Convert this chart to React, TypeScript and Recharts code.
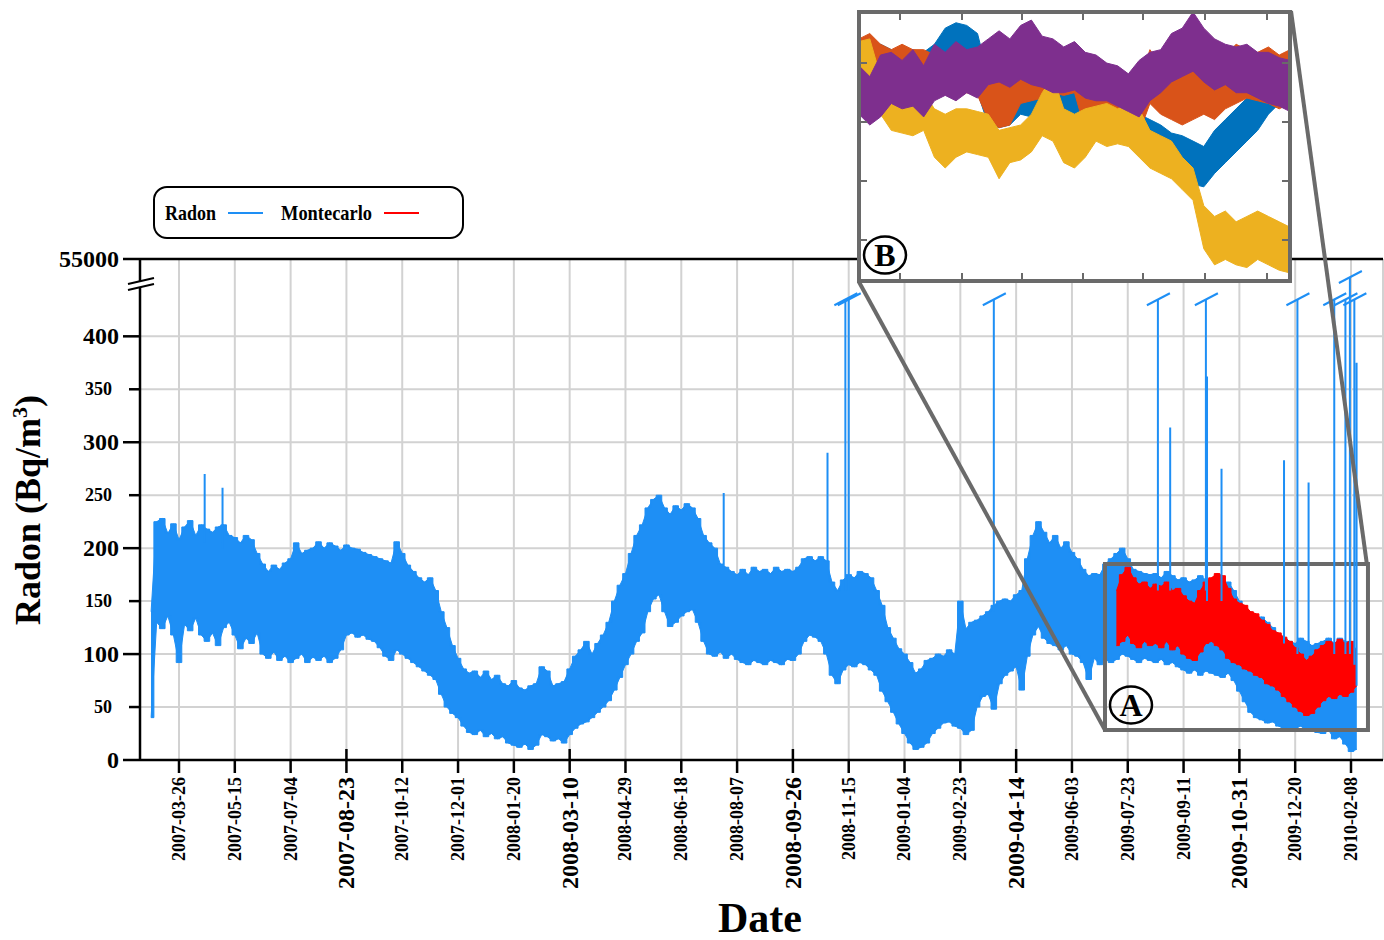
import React from "react";
import {
  ComposedChart,
  Area,
  Line,
  XAxis,
  YAxis,
  CartesianGrid,
  ReferenceLine,
  ReferenceArea,
} from "recharts";

const FONT = '"Liberation Serif", "DejaVu Serif", serif';
const BLUE = "#1e8ff5";
const RED = "#ff0000";
const GRAY = "#6a6a6a";

// x axis: days after 2007-03-26, one tick every 50 days
const dateLabels = [
  "2007-03-26", "2007-05-15", "2007-07-04", "2007-08-23", "2007-10-12", "2007-12-01",
  "2008-01-20", "2008-03-10", "2008-04-29", "2008-06-18", "2008-08-07", "2008-09-26",
  "2008-11-15", "2009-01-04", "2009-02-23", "2009-04-14", "2009-06-03", "2009-07-23",
  "2009-09-11", "2009-10-31", "2009-12-20", "2010-02-08",
];
const xTickValues = dateLabels.map((_, i) => i * 50);

// y axis is broken above 400; the top tick stands for 55000
const yTickValues = [0, 50, 100, 150, 200, 250, 300, 350, 400, 473];
const yLabels = ["0", "50", "100", "150", "200", "250", "300", "350", "400", "55000"];

// Radon envelope, one sample every 5 days starting at day -25
const radonStart = -25;
const radonStep = 5;
const radonLow = [
  40, 130, 124, 136, 118, 92, 128, 122, 134, 118,
  112, 120, 108, 125, 130, 118, 105, 115, 110, 120,
  100, 96, 102, 94, 98, 92, 96, 100, 92, 97,
  94, 98, 92, 96, 104, 118, 120, 116, 118, 114,
  112, 106, 98, 94, 104, 100, 96, 92, 88, 84,
  80, 76, 62, 50, 44, 40, 32, 26, 24, 28,
  22, 25, 20, 22, 16, 14, 12, 15, 10, 14,
  24, 22, 18, 20, 16, 24, 30, 34, 36, 40,
  45, 50, 56, 66, 78, 90, 100, 112, 120, 140,
  152, 156, 140, 126, 130, 136, 140, 142, 130, 112,
  100, 98, 102, 96, 100, 95, 92, 90, 94, 92,
  90, 94, 92, 90, 95, 94, 100, 112, 118, 116,
  112, 100, 80, 72, 85, 90, 88, 92, 90, 85,
  80, 65, 55, 45, 34, 25, 16, 10, 12, 16,
  25, 30, 35, 36, 32, 30, 24, 28, 50, 60,
  62, 48, 72, 80, 84, 88, 66, 98, 118, 126,
  115, 110, 108, 104, 108, 100, 98, 92, 76, 96,
  90, 95, 92, 95, 100, 98, 95, 92, 96, 94,
  92, 95, 90, 92, 88, 85, 82, 85, 80, 84,
  82, 80, 78, 82, 75, 65, 55, 45, 40, 38,
  35, 36, 32, 30, 28, 30, 32, 28, 30, 26,
  25, 28, 20, 22, 15, 8, 10,
];
const radonHigh = [
  140, 225, 228, 214, 223, 208, 220, 226, 212, 222,
  218, 215, 220, 222, 212, 210, 205, 212, 208, 195,
  185, 178, 184, 180, 186, 190, 205, 195, 198, 200,
  206, 200, 205, 202, 198, 203, 200, 199, 196, 194,
  192, 190, 188, 186, 206, 195, 184, 178, 172, 168,
  172, 160, 140, 125, 108, 96, 86, 82, 84, 78,
  84, 76, 80, 72, 70, 75, 68, 66, 70, 72,
  88, 84, 70, 72, 74, 86, 98, 104, 112, 100,
  110, 118, 130, 150, 165, 176, 195, 212, 222, 238,
  246, 250, 238, 232, 240, 236, 242, 238, 228, 212,
  205, 200, 185, 182, 178, 175, 180, 175, 182, 178,
  180, 176, 182, 178, 180, 178, 182, 190, 192, 188,
  192, 188, 168, 160, 170, 175, 172, 178, 176, 172,
  160, 146, 125, 115, 105, 100, 92, 82, 86, 94,
  96, 100, 98, 104, 100, 150, 124, 130, 132, 136,
  140, 146, 150, 152, 150, 156, 160, 190, 212, 225,
  215, 205, 212, 200, 206, 196, 190, 180, 174, 176,
  175, 185, 190, 195, 200, 190, 180, 178, 176, 175,
  176, 172, 178, 174, 170, 172, 168, 170, 174, 170,
  168, 172, 165, 168, 160, 150, 140, 135, 130, 135,
  130, 125, 118, 115, 112, 110, 115, 112, 108, 110,
  112, 115, 110, 115, 112, 108, 105,
];

// Montecarlo envelope, one sample every 5 days starting at day 840
const mcStart = 840;
const mcStep = 5;
const mcLow = [
  108, 112, 118, 110, 106, 112, 108, 110, 106, 112,
  104, 108, 100, 96, 94, 102, 110, 112, 108, 104,
  96, 92, 90, 86, 84, 80, 78, 72, 70, 66,
  60, 55, 50, 46, 42, 44, 50, 56, 60, 58,
  62, 60, 64, 70,
];
const mcHigh = [
  160, 175, 182, 172, 166, 168, 162, 166, 164, 168,
  160, 162, 155, 150, 148, 160, 168, 172, 176, 174,
  162, 152, 148, 146, 140, 138, 132, 128, 122, 120,
  116, 112, 106, 100, 94, 98, 104, 108, 112, 110,
  114, 110, 112, 102,
];

// isolated Radon spikes (day, foot, top); tops above 430 are off-scale
const spikeDays = [23, 39, 488, 581, 597, 600, 730, 877, 888, 920, 921, 934, 990, 1002, 1012, 1035, 1045, 1049, 1053, 1055];
const spikeBase = [205, 200, 180, 175, 160, 160, 140, 160, 160, 160, 150, 150, 110, 100, 100, 100, 100, 100, 90, 70];
const spikeTop = [270, 257, 252, 290, 435, 435, 435, 435, 314, 435, 362, 275, 283, 435, 262, 435, 435, 456, 435, 375];

// inset B: four simulated runs, one sample every 2.5 units on a 0-100 scale
const insetStep = 2.5;
const insetBlueLow = [64, 66, 65, 66, 64, 66, 65, 68, 72, 74, 72, 70, 58, 57, 58, 62, 61, 63, 60, 62, 60, 58, 57, 56, 57, 55, 47, 45, 44, 40, 38, 36, 35, 40, 44, 48, 52, 56, 62, 66, 66];
const insetBlueHigh = [86, 88, 88, 86, 84, 86, 85, 88, 94, 96, 95, 92, 76, 74, 75, 78, 76, 78, 77, 78, 76, 74, 74, 72, 74, 72, 62, 60, 58, 55, 54, 52, 50, 56, 60, 64, 68, 72, 78, 82, 84];
const insetOrangeLow = [72, 74, 72, 70, 72, 72, 70, 72, 70, 68, 70, 69, 60, 57, 58, 66, 67, 68, 70, 69, 70, 56, 52, 54, 52, 51, 55, 66, 62, 60, 58, 60, 62, 60, 64, 66, 68, 67, 66, 64, 66];
const insetOrangeHigh = [90, 92, 88, 86, 88, 86, 86, 84, 82, 80, 82, 81, 80, 76, 78, 86, 84, 82, 85, 83, 84, 70, 68, 70, 70, 71, 74, 86, 80, 79, 78, 80, 79, 78, 84, 88, 86, 85, 87, 84, 86];
const insetYellowLow = [74, 75, 62, 56, 55, 54, 56, 46, 42, 46, 48, 47, 46, 38, 44, 45, 48, 54, 52, 44, 42, 46, 52, 50, 51, 50, 46, 42, 40, 38, 34, 30, 12, 6, 8, 6, 5, 8, 6, 4, 3];
const insetYellowHigh = [89, 90, 76, 70, 70, 68, 70, 64, 62, 64, 64, 63, 62, 56, 57, 58, 62, 70, 76, 64, 62, 64, 65, 66, 64, 66, 64, 56, 54, 52, 46, 42, 28, 24, 26, 22, 24, 26, 24, 22, 20];
const insetPurpleLow = [62, 58, 61, 66, 64, 65, 61, 67, 69, 67, 70, 68, 73, 74, 72, 75, 73, 72, 70, 70, 71, 68, 67, 67, 65, 63, 61, 67, 70, 74, 76, 78, 74, 71, 73, 70, 70, 68, 66, 65, 63];
const insetPurpleHigh = [80, 76, 84, 85, 82, 86, 80, 88, 85, 89, 86, 87, 90, 93, 90, 95, 97, 91, 90, 87, 89, 85, 84, 81, 80, 77, 82, 85, 86, 92, 94, 100, 94, 90, 88, 87, 88, 85, 85, 83, 82];

const radonData = radonLow.map((lo, i) => ({ x: radonStart + i * radonStep, r: [lo, radonHigh[i]] }));
const mcData = mcLow.map((lo, i) => ({ x: mcStart + i * mcStep, r: [lo, mcHigh[i]] }));
const spikeData = spikeDays.flatMap((d, i) => [
  { x: d, y: spikeBase[i], slash: false },
  { x: d, y: spikeTop[i], slash: spikeTop[i] >= 430 },
  { x: d + 0.01, y: null, slash: false },
]);

const band = (low: number[], high: number[]) =>
  low.map((lo, i) => ({ x: i * insetStep, r: [lo, high[i]] }));
const insetSeries = [
  { name: "run1", color: "#0072BD", data: band(insetBlueLow, insetBlueHigh) },
  { name: "run2", color: "#D95319", data: band(insetOrangeLow, insetOrangeHigh) },
  { name: "run3", color: "#EDB120", data: band(insetYellowLow, insetYellowHigh) },
  { name: "run4", color: "#7E2F8E", data: band(insetPurpleLow, insetPurpleHigh) },
];

function YTick(props: any) {
  const { x, y, payload } = props;
  const i = yTickValues.indexOf(payload.value);
  const major = payload.value % 100 === 0 || payload.value === 473;
  const len = major ? 17 : 11;
  return (
    <g>
      <line x1={x - len} x2={x} y1={y} y2={y} stroke="#000" strokeWidth={2.5} />
      <text
        x={major ? x - 21 : x - 28}
        y={y}
        dy="0.34em"
        textAnchor="end"
        fontFamily={FONT}
        fontWeight="bold"
        fontSize={major ? 24 : 18}
        fill="#000"
      >
        {yLabels[i]}
      </text>
    </g>
  );
}

function XTick(props: any) {
  const { x, y, payload } = props;
  const i = Math.round(payload.value / 50);
  const big = i % 4 === 3;
  const fs = big ? 24 : 18;
  return (
    <g>
      <line x1={x} x2={x} y1={y} y2={y + 13} stroke="#000" strokeWidth={2.5} />
      {big && <line x1={x} x2={x} y1={y - 11} y2={y} stroke="#000" strokeWidth={2.5} />}
      <text
        transform={`translate(${x + fs * 0.33}, ${y + 17}) rotate(-90)`}
        textAnchor="end"
        fontFamily={FONT}
        fontWeight="bold"
        fontSize={fs}
        fill="#000"
      >
        {dateLabels[i]}
      </text>
    </g>
  );
}

// small "/" break mark on spikes that run off the scale
function SlashDot(p: any) {
  if (!p.payload || !p.payload.slash || p.cy == null) return <g key={"d" + p.index} />;
  return (
    <line
      key={"d" + p.index}
      x1={p.cx - 11}
      y1={p.cy + 6}
      x2={p.cx + 12}
      y2={p.cy - 6}
      stroke={BLUE}
      strokeWidth={2}
    />
  );
}

function CircleLabel(props: any) {
  const { viewBox, text } = props;
  if (!viewBox) return null;
  const cx = viewBox.x + 26;
  const cy = viewBox.y + viewBox.height - 25;
  return (
    <g>
      <ellipse cx={cx} cy={cy} rx={21} ry={18.5} fill="none" stroke="#000" strokeWidth={2.5} />
      <text x={cx} y={cy + 11} textAnchor="middle" fontFamily={FONT} fontWeight="bold" fontSize={32} fill="#000">
        {text}
      </text>
    </g>
  );
}

// a noisy band: the linear envelope plus a stepped copy on top of it,
// which gives the edges the jagged look of the raw record
function noisyBand(key: string, data: any[], color: string) {
  return [
    <Area
      key={key + "-lin"}
      data={data}
      dataKey="r"
      type="linear"
      stroke={color}
      strokeWidth={1}
      fill={color}
      fillOpacity={1}
      isAnimationActive={false}
    />,
    <Area
      key={key + "-step"}
      data={data}
      dataKey="r"
      type="step"
      stroke={color}
      strokeWidth={1}
      fill={color}
      fillOpacity={1}
      isAnimationActive={false}
    />,
  ];
}

export default function App() {
  return (
    <div style={{ position: "absolute", left: 0, top: 0, width: 1384, height: 940, background: "#fff" }}>
      <ComposedChart
        width={1384}
        height={940}
        margin={{ top: 259, right: 1, left: 0, bottom: 0 }}
      >
        <CartesianGrid stroke="#d2d2d2" strokeWidth={2} />
        <XAxis
          dataKey="x"
          type="number"
          domain={[-34.94, 1078.67]}
          allowDataOverflow
          ticks={xTickValues}
          interval={0}
          tickSize={0}
          tickMargin={0}
          height={180}
          axisLine={{ stroke: "#000", strokeWidth: 2.5 }}
          tick={XTick}
        />
        <YAxis
          type="number"
          domain={[0, 473]}
          allowDataOverflow
          ticks={yTickValues}
          interval={0}
          tickSize={0}
          tickMargin={0}
          width={140}
          axisLine={{ stroke: "#000", strokeWidth: 2.5 }}
          tick={YTick}
        />
        <ReferenceLine y={473} stroke="#000" strokeWidth={2.5} />
        {noisyBand("radon", radonData, BLUE)}
        <Line
          data={spikeData}
          dataKey="y"
          type="linear"
          stroke={BLUE}
          strokeWidth={2}
          dot={SlashDot}
          activeDot={false}
          connectNulls={false}
          isAnimationActive={false}
        />
        {noisyBand("mc", mcData, RED)}
        <ReferenceArea
          x1={829.6}
          x2={1065.2}
          y1={28.3}
          y2={185}
          fill="none"
          stroke={GRAY}
          strokeWidth={4}
          label={<CircleLabel text="A" />}
        />
      </ComposedChart>

      {/* inset B */}
      <div style={{ position: "absolute", left: 859, top: 12, width: 431, height: 269, background: "#fff" }}>
        <ComposedChart width={431} height={269} margin={{ top: 0, right: 0, left: 0, bottom: 0 }}>
          <XAxis dataKey="x" type="number" domain={[0, 100]} hide />
          <YAxis type="number" domain={[0, 100]} hide />
          {insetSeries.map((s) => (
            <Area
              key={s.name}
              data={s.data}
              dataKey="r"
              type="linear"
              stroke={s.color}
              strokeWidth={1}
              fill={s.color}
              fillOpacity={1}
              isAnimationActive={false}
            />
          ))}
        </ComposedChart>
      </div>

      <svg
        width={1384}
        height={940}
        style={{ position: "absolute", left: 0, top: 0, pointerEvents: "none" }}
      >
        {/* legend */}
        <rect x={154} y={187} width={309} height={51} rx={13} fill="#fff" stroke="#000" strokeWidth={2} />
        <text x={165} y={220} fontFamily={FONT} fontWeight="bold" fontSize={22} textLength={51} lengthAdjust="spacingAndGlyphs">
          Radon
        </text>
        <line x1={228} x2={263} y1={213} y2={213} stroke={BLUE} strokeWidth={2} />
        <text x={281} y={220} fontFamily={FONT} fontWeight="bold" fontSize={22} textLength={91} lengthAdjust="spacingAndGlyphs">
          Montecarlo
        </text>
        <line x1={384} x2={419} y1={213} y2={213} stroke={RED} strokeWidth={2} />

        {/* y axis break */}
        <polygon points="128,284 154,278 154,284 128,290" fill="#fff" />
        <line x1={128} y1={284} x2={154} y2={278} stroke="#000" strokeWidth={2} />
        <line x1={128} y1={290} x2={154} y2={284} stroke="#000" strokeWidth={2} />

        {/* zoom connectors */}
        <line x1={859} y1={282} x2={1105} y2={730} stroke={GRAY} strokeWidth={4} />
        <line x1={1291} y1={11} x2={1367} y2={565} stroke={GRAY} strokeWidth={4} />

        {/* inset frame with inner ticks */}
        <rect x={859} y={12} width={431} height={269} fill="none" stroke={GRAY} strokeWidth={4} />
        {[900, 962, 1022, 1083, 1143, 1205, 1267].map((tx) => (
          <g key={"t" + tx}>
            <line x1={tx} x2={tx} y1={12} y2={20} stroke={GRAY} strokeWidth={2} />
            <line x1={tx} x2={tx} y1={273} y2={281} stroke={GRAY} strokeWidth={2} />
          </g>
        ))}
        {[63, 122, 181, 240].map((ty) => (
          <g key={"s" + ty}>
            <line x1={859} x2={867} y1={ty} y2={ty} stroke={GRAY} strokeWidth={2} />
            <line x1={1282} x2={1290} y1={ty} y2={ty} stroke={GRAY} strokeWidth={2} />
          </g>
        ))}
        <ellipse cx={885} cy={255} rx={21} ry={18.5} fill="none" stroke="#000" strokeWidth={2.5} />
        <text x={885} y={266} textAnchor="middle" fontFamily={FONT} fontWeight="bold" fontSize={32}>
          B
        </text>

        {/* axis titles */}
        <text
          transform="translate(40, 510) rotate(-90)"
          textAnchor="middle"
          fontFamily={FONT}
          fontWeight="bold"
          fontSize={36}
        >
          Radon (Bq/m<tspan fontSize={22} dy={-13}>3</tspan>
          <tspan dy={13}>)</tspan>
        </text>
        <text x={760} y={932} textAnchor="middle" fontFamily={FONT} fontWeight="bold" fontSize={42}>
          Date
        </text>
      </svg>
    </div>
  );
}
